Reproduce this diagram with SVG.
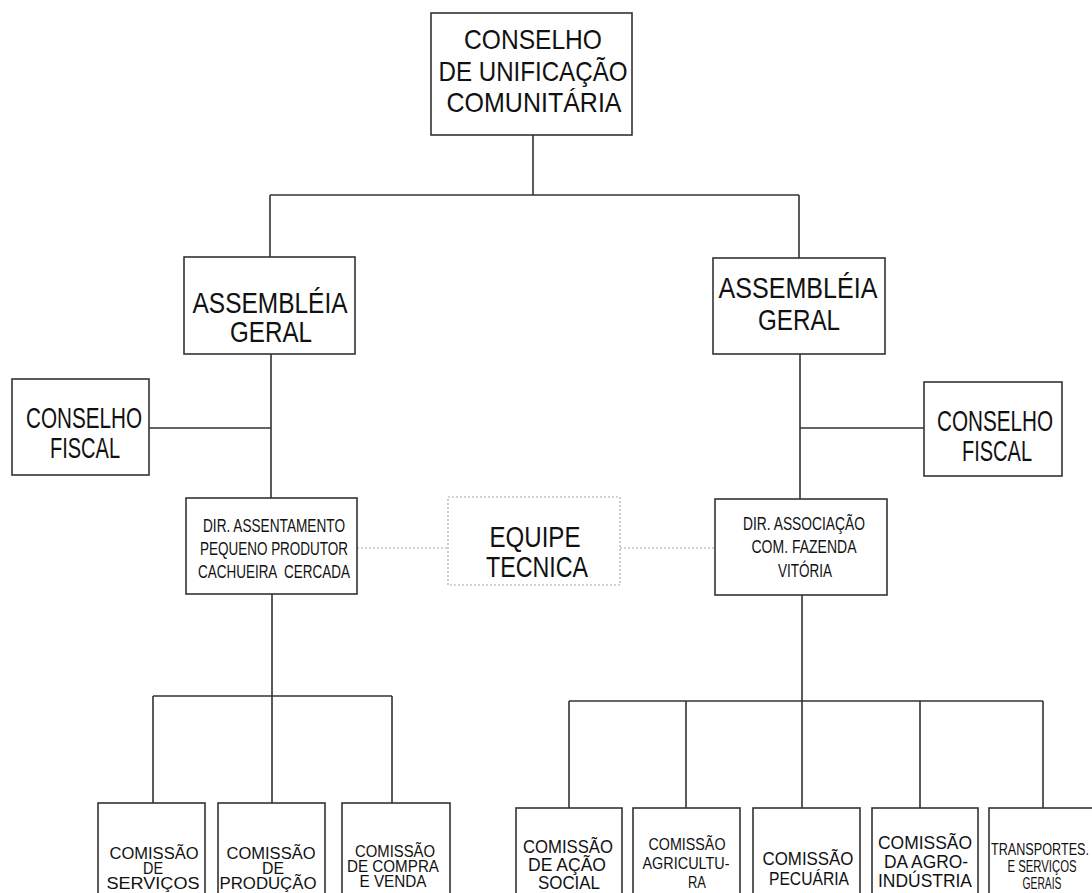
<svg xmlns="http://www.w3.org/2000/svg" width="1092" height="893" viewBox="0 0 1092 893">
<style>
.box{fill:#fff;stroke:#333;stroke-width:1.6}
.dot{fill:none;stroke:#aaa;stroke-width:1.2;stroke-dasharray:2 2}
.ln{fill:none;stroke:#333;stroke-width:1.6}
text{font-family:"Liberation Sans",Arial,sans-serif;fill:#111;text-anchor:middle}
.t{font-size:28px}
.b{font-size:29px}
.m{font-size:18px}
.s{font-size:16px}
.r{font-size:19px}
.q{font-size:17px}
</style>
<rect width="1092" height="893" fill="#fff"/>
<g id="connectors">
<path class="ln" d="M533 135V195M270 195H799M270 195V257M799 195V258"/>
<path class="ln" d="M271 354V498M149 428H271"/>
<path class="ln" d="M800 354V499M800 428H924"/>
<path class="ln" d="M272 594V696M153 696H392M153 696V803M272 696V803M392 696V803"/>
<path class="ln" d="M802 595V701M569 701H1043M569 701V808M686 701V808M802 701V808M920 701V808M1043 701V808"/>
<path class="dot" d="M357 548H448M620 548H715"/>
</g>
<g id="n-top"><rect class="box" x="431" y="13" width="201" height="122"/>
<text class="t" x="533" y="49" textLength="138" lengthAdjust="spacingAndGlyphs">CONSELHO</text>
<text class="t" x="533" y="81" textLength="189" lengthAdjust="spacingAndGlyphs">DE UNIFICAÇÃO</text>
<text class="t" x="534" y="112" textLength="175" lengthAdjust="spacingAndGlyphs">COMUNITÁRIA</text></g>
<g id="n-ag-left"><rect class="box" x="184" y="257" width="171" height="97"/>
<text class="b" x="270" y="313" textLength="155" lengthAdjust="spacingAndGlyphs">ASSEMBLÉIA</text>
<text class="b" x="271" y="342" textLength="82" lengthAdjust="spacingAndGlyphs">GERAL</text></g>
<g id="n-ag-right"><rect class="box" x="713" y="258" width="172" height="96"/>
<text class="b" x="798" y="298" textLength="159" lengthAdjust="spacingAndGlyphs">ASSEMBLÉIA</text>
<text class="b" x="799" y="330" textLength="82" lengthAdjust="spacingAndGlyphs">GERAL</text></g>
<g id="n-cf-left"><rect class="box" x="12" y="379" width="137" height="96"/>
<text class="b" x="84" y="428" textLength="116" lengthAdjust="spacingAndGlyphs">CONSELHO</text>
<text class="b" x="85" y="458" textLength="70" lengthAdjust="spacingAndGlyphs">FISCAL</text></g>
<g id="n-cf-right"><rect class="box" x="924" y="382" width="138" height="94"/>
<text class="b" x="995" y="431" textLength="116" lengthAdjust="spacingAndGlyphs">CONSELHO</text>
<text class="b" x="997" y="461" textLength="70" lengthAdjust="spacingAndGlyphs">FISCAL</text></g>
<g id="n-dir-left"><rect class="box" x="186" y="498" width="171" height="96"/>
<text class="m" x="274" y="532" textLength="142" lengthAdjust="spacingAndGlyphs">DIR. ASSENTAMENTO</text>
<text class="m" x="274" y="555" textLength="148" lengthAdjust="spacingAndGlyphs">PEQUENO PRODUTOR</text>
<text class="m" x="274" y="578" textLength="152" lengthAdjust="spacingAndGlyphs" xml:space="preserve">CACHUEIRA  CERCADA</text></g>
<g id="n-equipe"><rect class="dot" x="448" y="497" width="172" height="88"/>
<text class="b" x="535" y="547" textLength="91" lengthAdjust="spacingAndGlyphs">EQUIPE</text>
<text class="b" x="537" y="577" textLength="102" lengthAdjust="spacingAndGlyphs">TECNICA</text></g>
<g id="n-dir-right"><rect class="box" x="715" y="499" width="172" height="96"/>
<text class="m" x="804" y="530" textLength="122" lengthAdjust="spacingAndGlyphs">DIR. ASSOCIAÇÃO</text>
<text class="m" x="804" y="553" textLength="105" lengthAdjust="spacingAndGlyphs">COM. FAZENDA</text>
<text class="m" x="805" y="577" textLength="54" lengthAdjust="spacingAndGlyphs">VITÓRIA</text></g>
<g id="n-servicos"><rect class="box" x="98" y="803" width="107" height="100"/>
<text class="s" x="154" y="859" textLength="89" lengthAdjust="spacingAndGlyphs">COMISSÃO</text>
<text class="s" x="153" y="874" textLength="20" lengthAdjust="spacingAndGlyphs">DE</text>
<text class="s" x="153" y="889" textLength="93" lengthAdjust="spacingAndGlyphs">SERVIÇOS</text></g>
<g id="n-producao"><rect class="box" x="218" y="803" width="107" height="100"/>
<text class="s" x="271" y="859" textLength="89" lengthAdjust="spacingAndGlyphs">COMISSÃO</text>
<text class="s" x="273" y="874" textLength="22" lengthAdjust="spacingAndGlyphs">DE</text>
<text class="s" x="268" y="889" textLength="97" lengthAdjust="spacingAndGlyphs">PRODUÇÃO</text></g>
<g id="n-compra"><rect class="box" x="342" y="803" width="108" height="100"/>
<text class="s" x="395" y="857" textLength="80" lengthAdjust="spacingAndGlyphs">COMISSÃO</text>
<text class="s" x="393" y="872" textLength="92" lengthAdjust="spacingAndGlyphs">DE COMPRA</text>
<text class="s" x="393" y="887" textLength="67" lengthAdjust="spacingAndGlyphs">E VENDA</text></g>
<g id="n-acao"><rect class="box" x="516" y="808" width="106" height="100"/>
<text class="r" x="568" y="853" textLength="90" lengthAdjust="spacingAndGlyphs">COMISSÃO</text>
<text class="r" x="567" y="871" textLength="78" lengthAdjust="spacingAndGlyphs">DE AÇÃO</text>
<text class="r" x="569" y="889" textLength="62" lengthAdjust="spacingAndGlyphs">SOCIAL</text></g>
<g id="n-agri"><rect class="box" x="633" y="808" width="107" height="100"/>
<text class="q" x="687" y="850" textLength="77" lengthAdjust="spacingAndGlyphs">COMISSÃO</text>
<text class="q" x="686" y="869" textLength="87" lengthAdjust="spacingAndGlyphs">AGRICULTU-</text>
<text class="q" x="697" y="888" textLength="18" lengthAdjust="spacingAndGlyphs">RA</text></g>
<g id="n-pecuaria"><rect class="box" x="753" y="808" width="107" height="100"/>
<text class="r" x="808" y="865" textLength="91" lengthAdjust="spacingAndGlyphs">COMISSÃO</text>
<text class="r" x="809" y="885" textLength="80" lengthAdjust="spacingAndGlyphs">PECUÁRIA</text></g>
<g id="n-agroind"><rect class="box" x="872" y="808" width="106" height="100"/>
<text class="r" x="925" y="849" textLength="94" lengthAdjust="spacingAndGlyphs">COMISSÃO</text>
<text class="r" x="926" y="868" textLength="84" lengthAdjust="spacingAndGlyphs">DA AGRO-</text>
<text class="r" x="925" y="887" textLength="94" lengthAdjust="spacingAndGlyphs">INDÚSTRIA</text></g>
<g id="n-transportes"><rect class="box" x="989" y="808" width="108" height="100"/>
<text class="s" x="1040" y="855" textLength="98" lengthAdjust="spacingAndGlyphs">TRANSPORTES.</text>
<text class="s" x="1042" y="872" textLength="69" lengthAdjust="spacingAndGlyphs">E SERVIÇOS</text>
<text class="s" x="1042" y="889" textLength="39" lengthAdjust="spacingAndGlyphs">GERAIS</text></g>
</svg>
